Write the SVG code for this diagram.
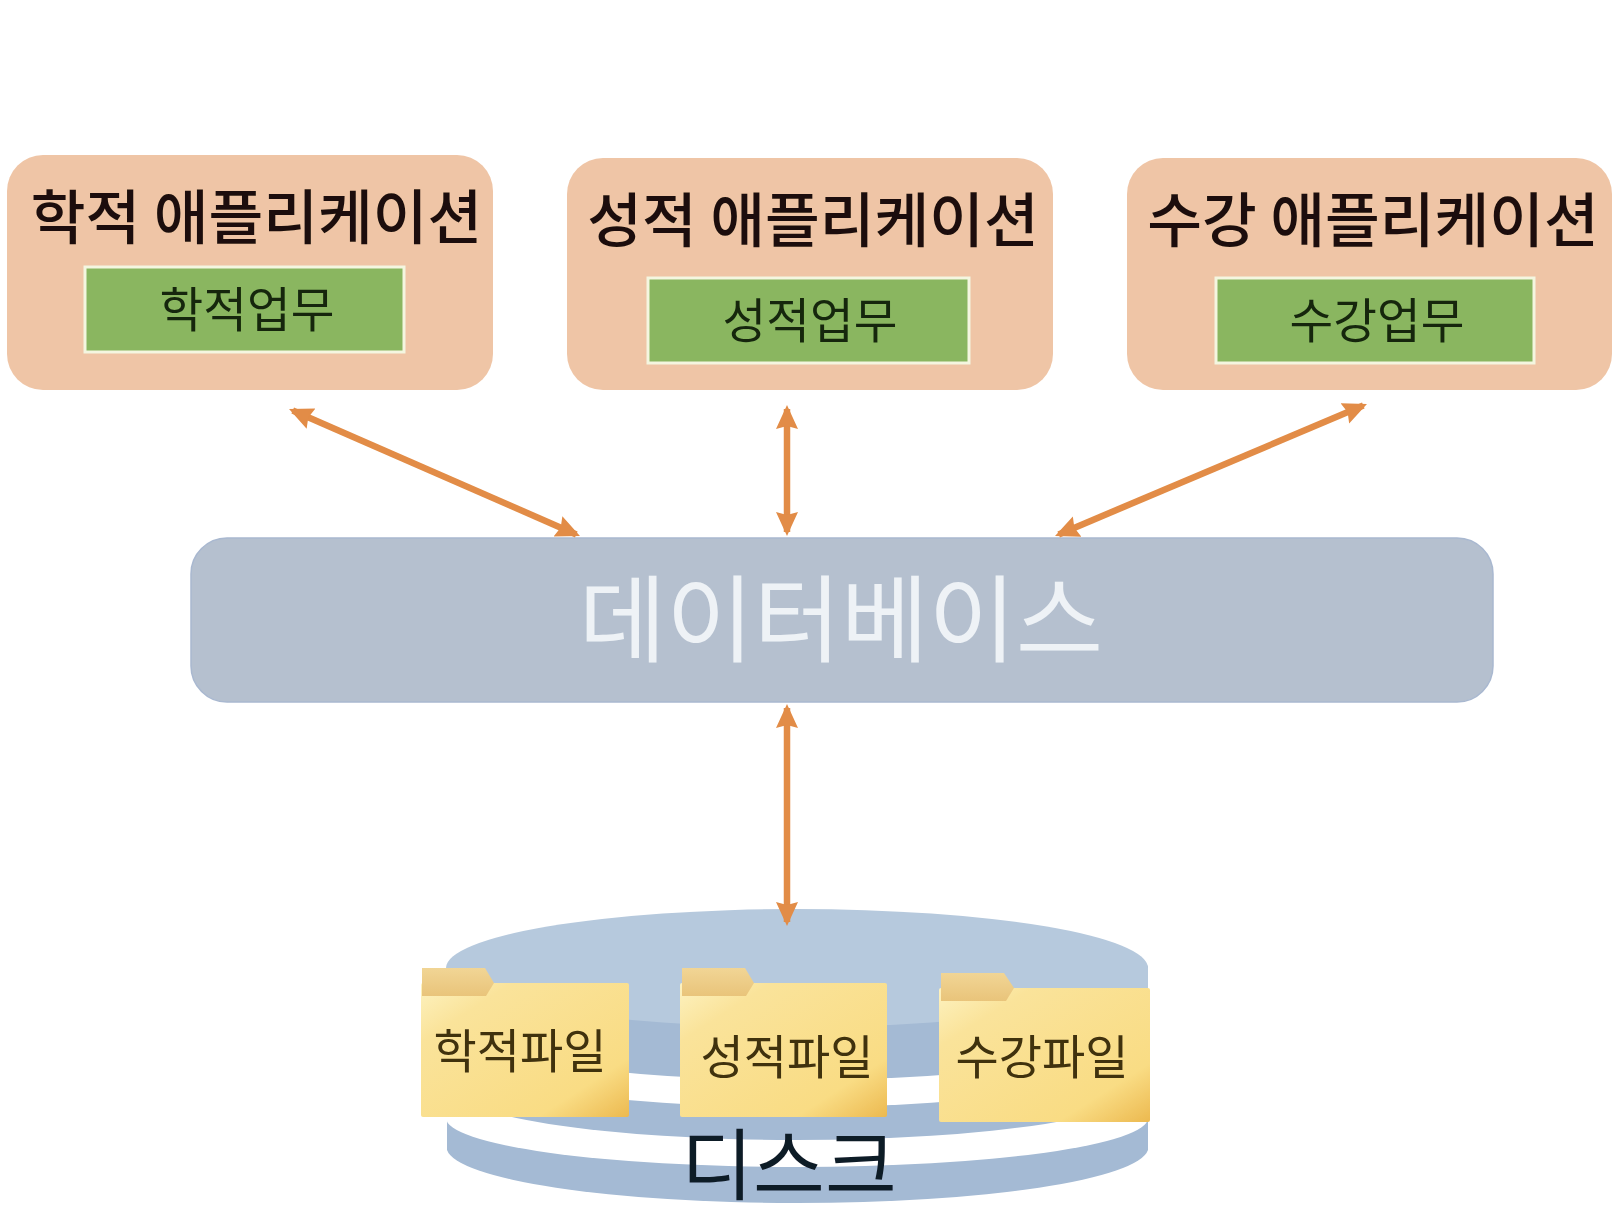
<svg xmlns="http://www.w3.org/2000/svg" width="1618" height="1226" viewBox="0 0 1618 1226">
<style>
text{font-family:"Noto Sans CJK KR","Noto Sans",sans-serif;text-anchor:middle}
.app{fill:#efc5a6}
.task{fill:#8ab661;stroke:#f4f6e0;stroke-width:3}
.title{font-size:59.500px;font-weight:500;fill:#1c110a}
.tl{font-size:47.500px;font-weight:400;fill:#14280c}
.fl{font-size:47px;font-weight:400;fill:#3f3010}
.body{fill:url(#fg)}
.tab{fill:url(#tg)}
.conn{fill:none;stroke:#e28c46;stroke-width:6.500;marker-start:url(#ah);marker-end:url(#ah)}
.soft{filter:url(#b)}
</style>
<defs>
<filter id="b" x="-5%" y="-5%" width="110%" height="110%"><feGaussianBlur stdDeviation="0.7"/></filter>
<marker id="ah" viewBox="0 0 24 24" refX="20" refY="12" markerWidth="24" markerHeight="24" markerUnits="userSpaceOnUse" orient="auto-start-reverse"><path d="M0 1L24 12L0 23L3 12Z" fill="#e28c46"/></marker>
<linearGradient id="fg" x1="0" y1="0" x2="1" y2="1"><stop offset="0" stop-color="#fdf2c0"/><stop offset="0.22" stop-color="#fae39a"/><stop offset="0.78" stop-color="#f9dc84"/><stop offset="1" stop-color="#ecb94f"/></linearGradient>
<linearGradient id="tg" x1="0" y1="0" x2="0" y2="1"><stop offset="0" stop-color="#f1d595"/><stop offset="1" stop-color="#e9c47a"/></linearGradient>
</defs>
<rect width="1618" height="1226" fill="#fff"/>
<g class="soft">
<g id="disk">
<path d="M447 1118H1148V1150A351 56 0 0 1 447 1150Z" fill="#a4bad4"/>
<ellipse cx="797" cy="1118" rx="351" ry="49" fill="#fff"/>
<ellipse cx="797" cy="1085" rx="351" ry="55" fill="#a4bad4"/>
<ellipse cx="797" cy="1050" rx="351" ry="57" fill="#fff"/>
<path d="M447 967A351 57 0 0 1 1148 967V1026A351 57 0 0 1 447 1026Z" fill="#a4bad4"/>
<ellipse cx="797" cy="968" rx="351" ry="59" fill="#b6c9dd"/>
<rect x="447" y="968" width="701" height="22" fill="#b6c9dd"/>
<text x="789" y="1194" font-size="78" font-weight="400" fill="#101a28">디스크</text>
</g>
<g id="app-hakjeok">
<rect class="app" x="7" y="155" width="486" height="235" rx="36"/>
<text class="title" x="256.500" y="239">학적 애플리케이션</text>
<rect class="task" x="85" y="267" width="319" height="85"/>
<text class="tl" x="247" y="327">학적업무</text>
</g>
<g id="app-seongjeok">
<rect class="app" x="567" y="158" width="486" height="232" rx="36"/>
<text class="title" x="813" y="242">성적 애플리케이션</text>
<rect class="task" x="648" y="278" width="321" height="85"/>
<text class="tl" x="810" y="338">성적업무</text>
</g>
<g id="app-sugang">
<rect class="app" x="1127" y="158" width="485" height="232" rx="36"/>
<text class="title" x="1373" y="242">수강 애플리케이션</text>
<rect class="task" x="1216" y="278" width="318" height="85"/>
<text class="tl" x="1377" y="338">수강업무</text>
</g>
<g id="database">
<rect x="191" y="538" width="1302" height="164" rx="36" fill="#b5c0cf" stroke="#a9b8d0" stroke-width="1.500"/>
<text x="841" y="655" font-size="95" fill="#eef2f6">데이터베이스</text>
</g>
<g id="connectors">
<path class="conn" d="M292.700 410.600L576.300 534.400"/>
<path class="conn" d="M787 409V532"/>
<path class="conn" d="M1363.300 405.600L1058.700 534.400"/>
<path class="conn" d="M787 708V922"/>
</g>
<g id="folder-hakjeok">
<rect class="body" x="421" y="983" width="208" height="134" rx="2"/>
<path class="tab" d="M422 968H485L494 983L486 996H422Z"/>
<text class="fl" x="520" y="1068">학적파일</text>
</g>
<g id="folder-seongjeok">
<rect class="body" x="680" y="983" width="207" height="134" rx="2"/>
<path class="tab" d="M682 968H745L754 983L746 996H682Z"/>
<text class="fl" x="787" y="1074">성적파일</text>
</g>
<g id="folder-sugang">
<rect class="body" x="939" y="988" width="211" height="134" rx="2"/>
<path class="tab" d="M941 973H1004L1014 988L1006 1001H941Z"/>
<text class="fl" x="1042" y="1074">수강파일</text>
</g>
</g>
</svg>
